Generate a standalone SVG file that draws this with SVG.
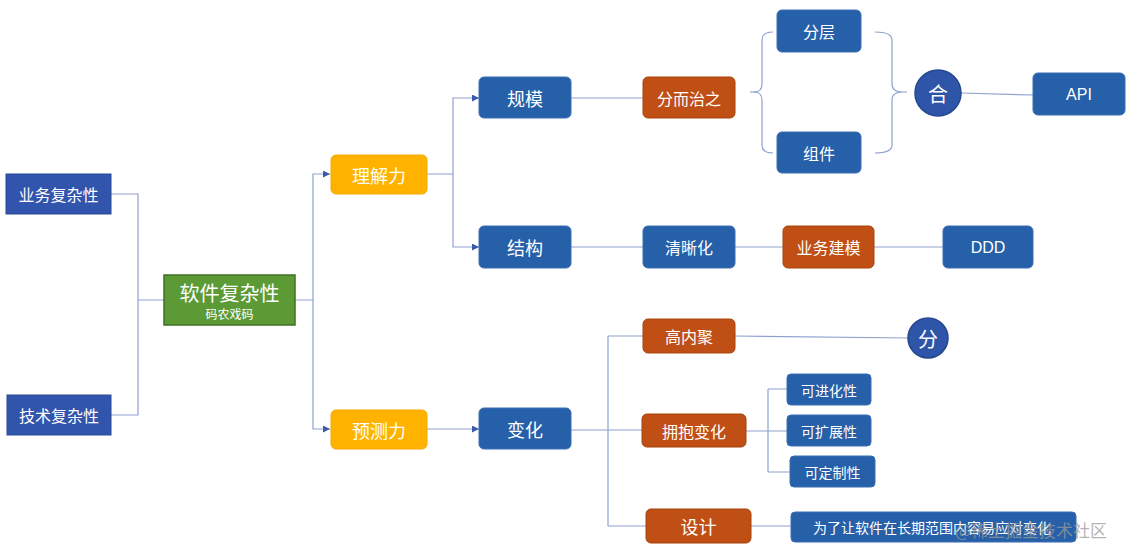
<svg xmlns="http://www.w3.org/2000/svg" width="1129" height="557" viewBox="0 0 1129 557">
<defs>
<marker id="arr" viewBox="0 0 10 10" refX="10" refY="5" markerWidth="7" markerHeight="7" orient="auto" markerUnits="userSpaceOnUse">
<path d="M0,0 L10,5 L0,10 z" fill="#3A5BAA"/>
</marker>
<style>
text{font-family:"Noto Sans CJK SC","Liberation Sans",sans-serif;fill:#fff;text-anchor:middle;dominant-baseline:central}
.sq{fill:#3154AC;stroke:#284A98;stroke-width:1}
.bl{fill:#2660A8;stroke:#3B6FB5;stroke-width:1}
.or{fill:#C04F15;stroke:#A6440F;stroke-width:1}
.ye{fill:#FFB300;stroke:#F5A800;stroke-width:1}
.gr{fill:#5B9A35;stroke:#3F7022;stroke-width:1.5}
.ci{fill:#2F55A8;stroke:#24478F;stroke-width:1.5}
.ln{fill:none;stroke:#8FA2CF;stroke-width:1.2}
.t18{font-size:18px}
.t16{font-size:16px}
.t14{font-size:14px}
</style>
</defs>
<rect width="1129" height="557" fill="#fff"/>
<g id="connectors">
<path class="ln" d="M111,194 H138 V415 H111 M138,300 H165"/>
<path class="ln" d="M295,300 H313 V174 H330" marker-end="url(#arr)"/>
<path class="ln" d="M313,300 V429 H330" marker-end="url(#arr)"/>
<path class="ln" d="M427,174 H453 V98 H479" marker-end="url(#arr)"/>
<path class="ln" d="M453,174 V247 H479" marker-end="url(#arr)"/>
<path class="ln" d="M571,98 H643"/>
<path class="ln" d="M750,92 H756"/>
<path class="ln" d="M773,32 Q762,32 762,40 V84 Q762,92 754,92 Q762,92 762,100 V145 Q762,153 773,153"/>
<path class="ln" d="M875,32 Q892,32 892,40 V84 Q892,92 903,92 H907 M903,92 Q892,92 892,100 V145 Q892,153 875,153"/>
<path class="ln" d="M961,93 L1033,95"/>
<path class="ln" d="M571,247 H643 M735,247 H783 M874,247 H943"/>
<path class="ln" d="M427,429 H479" marker-end="url(#arr)"/>
<path class="ln" d="M571,430 H608 M608,336 V526 M608,336 H643 M608,430 H642 M608,526 H646"/>
<path class="ln" d="M735,336 L908,338"/>
<path class="ln" d="M746,431 H768 M768,389 V472 M768,389 H787 M768,431 H787 M768,472 H790"/>
<path class="ln" d="M751,526 H791"/>
</g>
<g id="n-yewu"><rect class="sq" x="6" y="174" width="105" height="40"/><text class="t16" x="58.5" y="194">业务复杂性</text></g>
<g id="n-jishu"><rect class="sq" x="7" y="395" width="104" height="40"/><text class="t16" x="59" y="415">技术复杂性</text></g>
<g id="n-ruanjian"><rect class="gr" x="164" y="275" width="131" height="50"/><text x="229.5" y="292" style="font-size:20px">软件复杂性</text><text x="229.5" y="313" style="font-size:12px">码农戏码</text></g>
<g id="n-lijieli"><rect class="ye" x="331" y="155" width="96" height="39" rx="5"/><text class="t18" x="379" y="174.5">理解力</text></g>
<g id="n-yuceli"><rect class="ye" x="331" y="410" width="96" height="39" rx="5"/><text class="t18" x="379" y="429.5">预测力</text></g>
<g id="n-guimo"><rect class="bl" x="479" y="77" width="92" height="41" rx="5"/><text class="t18" x="525" y="97.5">规模</text></g>
<g id="n-jiegou"><rect class="bl" x="479" y="226" width="92" height="42" rx="5"/><text class="t18" x="525" y="247">结构</text></g>
<g id="n-fenerzhi"><rect class="or" x="643" y="77" width="92" height="41" rx="5"/><text class="t16" x="689" y="97.5">分而治之</text></g>
<g id="n-fenceng"><rect class="bl" x="777" y="10" width="84" height="42" rx="5"/><text class="t16" x="819" y="31">分层</text></g>
<g id="n-zujian"><rect class="bl" x="777" y="132" width="84" height="41" rx="5"/><text class="t16" x="819" y="152.5">组件</text></g>
<g id="n-he"><circle class="ci" cx="938" cy="93" r="23"/><text x="938" y="93" style="font-size:20px">合</text></g>
<g id="n-api"><rect class="bl" x="1033" y="73" width="92" height="42" rx="5"/><text class="t16" x="1079" y="94" style="font-family:'Liberation Sans',sans-serif">API</text></g>
<g id="n-qingxi"><rect class="bl" x="643" y="226" width="92" height="42" rx="5"/><text class="t16" x="689" y="247">清晰化</text></g>
<g id="n-yewujianmo"><rect class="or" x="783" y="226" width="91" height="42" rx="5"/><text class="t16" x="828.5" y="247">业务建模</text></g>
<g id="n-ddd"><rect class="bl" x="943" y="226" width="90" height="42" rx="5"/><text class="t16" x="988" y="247" style="font-family:'Liberation Sans',sans-serif">DDD</text></g>
<g id="n-bianhua"><rect class="bl" x="479" y="408" width="92" height="41" rx="5"/><text class="t18" x="525" y="428.5">变化</text></g>
<g id="n-gaoneiju"><rect class="or" x="643" y="319" width="92" height="34" rx="5"/><text class="t16" x="689" y="336">高内聚</text></g>
<g id="n-fen"><circle class="ci" cx="928" cy="338" r="20"/><text x="928" y="338" style="font-size:20px">分</text></g>
<g id="n-yongbao"><rect class="or" x="642" y="414" width="104" height="33" rx="5"/><text class="t16" x="694" y="430.5">拥抱变化</text></g>
<g id="n-kejinhua"><rect class="bl" x="787" y="374" width="84" height="31" rx="4"/><text class="t14" x="829" y="389.5">可进化性</text></g>
<g id="n-kekuozhan"><rect class="bl" x="787" y="415" width="84" height="31" rx="4"/><text class="t14" x="829" y="430.5">可扩展性</text></g>
<g id="n-kedingzhi"><rect class="bl" x="790" y="456" width="85" height="31" rx="4"/><text class="t14" x="832.5" y="471.5">可定制性</text></g>
<g id="n-sheji"><rect class="or" x="646" y="509" width="105" height="34" rx="5"/><text class="t18" x="698.5" y="526">设计</text></g>
<g id="n-weile"><rect class="bl" x="791" y="512" width="285" height="30" rx="4"/><text class="t14" x="932" y="527">为了让软件在长期范围内容易应对变化</text></g>
<text x="1031" y="529" style="font-size:17px;fill:#9A9A9A;fill-opacity:0.75">@稀土掘金技术社区</text>
</svg>
